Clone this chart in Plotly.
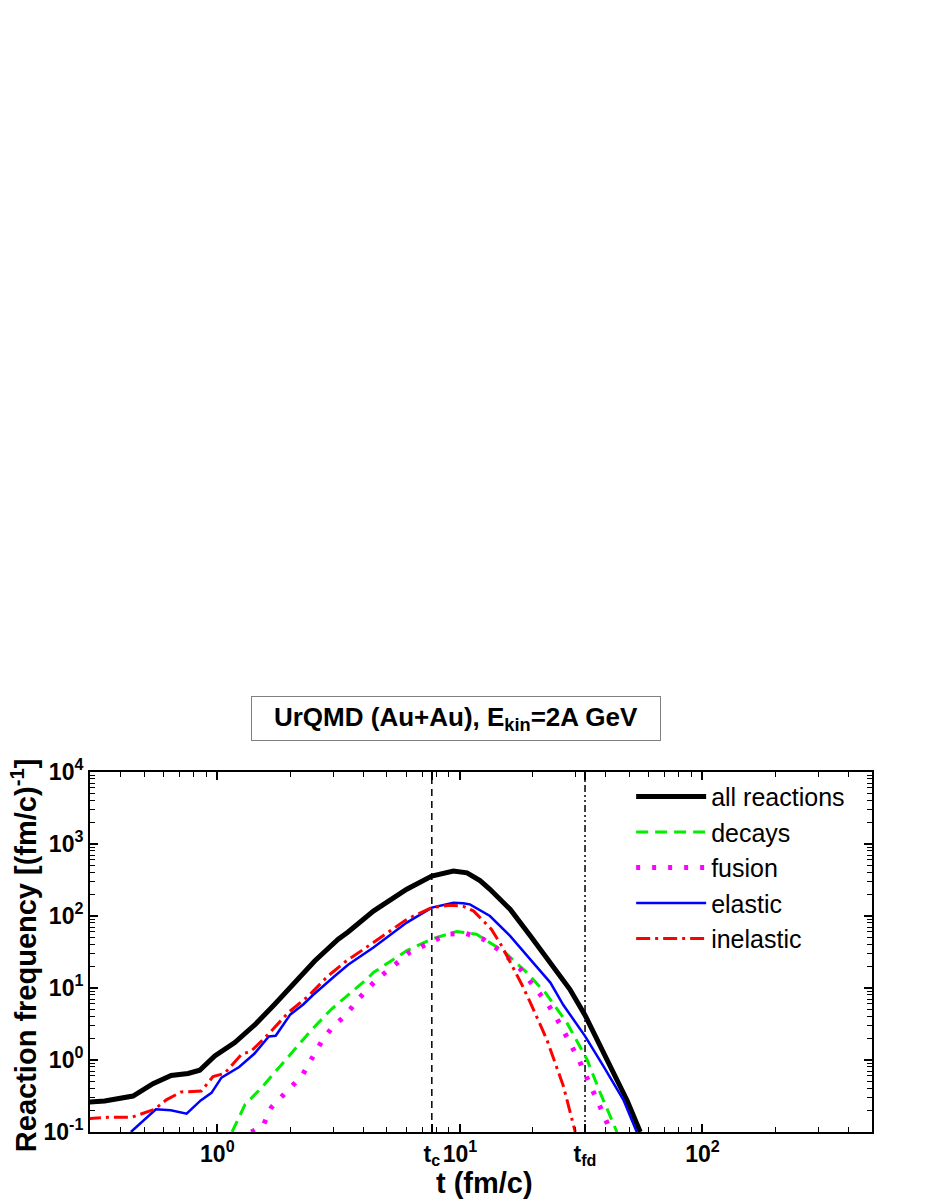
import plotly.graph_objects as go

# time markers (fm/c)
T_C = 7.66
T_FD = 32.8

# all reactions
all_t = [0.29, 0.343, 0.449, 0.543, 0.645, 0.757, 0.846, 0.976, 1.18, 1.43, 1.72, 2.02, 2.52, 3.15, 3.46,
         4.4, 6.04, 7.66, 9.4, 10.7, 12.1, 13.3, 16.1, 19.5, 23.4, 28.4, 32.8, 38, 43, 49, 55.4]
all_v = [0.26, 0.27, 0.316, 0.47, 0.61, 0.65, 0.72, 1.14, 1.75, 3.1, 5.9, 10.7, 23.7, 47.5, 60,
         117, 235, 359, 422, 398, 310, 235, 124, 53, 22.5, 9.6, 4.2, 1.5, 0.67, 0.27, 0.1]

# decays
dec_t = [1.15, 1.3, 1.52, 1.84, 2.12, 2.44, 2.95, 3.4, 4.13, 4.4, 6.04, 7.66, 9.7, 11.7, 15.1, 18.6,
         22.5, 27.6, 33.4, 37.9, 44.4]
dec_v = [0.1, 0.24, 0.41, 0.85, 1.5, 2.6, 5.06, 7.6, 13.2, 16.4, 33, 48, 61, 55.7, 32.6, 17.2,
         8.6, 3.3, 1.02, 0.35, 0.1]

# fusion
fus_t = [1.38, 1.54, 1.67, 1.9, 2.24, 2.44, 2.7, 2.95, 3.4, 3.87, 4.54, 5.32, 6.18, 7.54, 8.83, 10.5,
         12.5, 14.9, 17.7, 20.4, 23.2, 25.9, 28.5, 31.1, 33.6, 36.5, 39.1, 41.9]
fus_v = [0.1, 0.12, 0.22, 0.35, 0.61, 1.02, 1.84, 2.73, 4.3, 7.4, 13.2, 20.2, 31, 42.8, 55.7, 57.5,
         47.5, 31.6, 18.6, 10.1, 5.75, 3.13, 1.75, 0.97, 0.54, 0.3, 0.176, 0.1]

# elastic
ela_t = [0.44, 0.558, 0.643, 0.747, 0.854, 0.946, 1.04, 1.23, 1.42, 1.63, 1.74, 2.0, 2.26, 2.48, 3.05,
         3.46, 4.4, 6.04, 7.66, 9.4, 10.3, 11.0, 13.3, 16.1, 19.5, 23.6, 26.7, 32.8, 39, 47.2, 53.6]
ela_v = [0.1, 0.207, 0.2, 0.18, 0.275, 0.35, 0.57, 0.8, 1.22, 2.12, 2.17, 4.3, 5.9, 8.0, 14.7,
         21, 36.4, 81, 131, 153, 150, 145, 100, 53, 25, 11.9, 5.8, 2.15, 0.83, 0.28, 0.1]

# inelastic
ine_t = [0.29, 0.354, 0.443, 0.552, 0.616, 0.71, 0.859, 0.96, 1.07, 1.26, 1.38, 1.62, 1.96, 2.37, 2.86,
         3.4, 4.4, 6.04, 7.66, 9.1, 10.3, 11.4, 12.5, 13.5, 14.9, 16.6, 18.0, 19.5, 22.8, 26.7, 29.9]
ine_v = [0.153, 0.16, 0.16, 0.207, 0.28, 0.36, 0.37, 0.59, 0.65, 1.2, 1.33, 2.27, 4.55, 7.7, 14.7,
         23.7, 42.8, 90, 131, 141, 137, 117, 85, 65, 38, 19.2, 11.2, 6.3, 1.94, 0.435, 0.1]

X_TICKS = [1, T_C, 10, T_FD, 100]
X_TICKTEXT = ['10<sup>0</sup>', 't<sub>c</sub>', '10<sup>1</sup>', 't<sub>fd</sub>', '10<sup>2</sup>']
Y_TICKS = [0.1, 1, 10, 100, 1000, 10000]
Y_TICKTEXT = ['10<sup>-1</sup>', '10<sup>0</sup>', '10<sup>1</sup>', '10<sup>2</sup>',
              '10<sup>3</sup>', '10<sup>4</sup>']

FONT = 'Liberation Sans, Arial, sans-serif'

fig = go.Figure()

# vertical markers for t_c and t_fd
fig.add_trace(go.Scatter(x=[T_C, T_C], y=[0.1, 1e4], mode='lines', showlegend=False, hoverinfo='skip',
                         line=dict(color='black', width=1.5, dash='7px,5px')))
fig.add_trace(go.Scatter(x=[T_FD, T_FD], y=[0.1, 1e4], mode='lines', showlegend=False, hoverinfo='skip',
                         line=dict(color='black', width=1.5, dash='7px,3px,2px,3px,2px,3px')))

fig.add_trace(go.Scatter(x=all_t, y=all_v, mode='lines', name='all reactions',
                         line=dict(color='black', width=5)))
fig.add_trace(go.Scatter(x=dec_t, y=dec_v, mode='lines', name='decays',
                         line=dict(color='#00ee00', width=3, dash='12px,7px')))
fig.add_trace(go.Scatter(x=fus_t, y=fus_v, mode='lines', name='fusion',
                         line=dict(color='#ff00ff', width=5, dash='4px,12px')))
fig.add_trace(go.Scatter(x=ela_t, y=ela_v, mode='lines', name='elastic',
                         line=dict(color='#0000ff', width=2.5)))
fig.add_trace(go.Scatter(x=ine_t, y=ine_v, mode='lines', name='inelastic',
                         line=dict(color='#ff0000', width=3, dash='14px,5px,3px,5px')))

minor_x = [m * 10 ** k for k in range(-1, 3) for m in range(2, 10)]
minor_y = [m * 10 ** k for k in range(-1, 4) for m in range(2, 10)]

# page body adds an 8px offset, margins compensate so the plot sits where the reference has it
fig.update_layout(
    width=918,
    height=1191,
    margin=dict(l=82, r=54, t=764, b=67),
    paper_bgcolor='white',
    plot_bgcolor='white',
    font=dict(family=FONT, color='black'),
    showlegend=True,
    legend=dict(x=0.692, y=0.995, xanchor='left', yanchor='top', bgcolor='rgba(0,0,0,0)',
                font=dict(size=25, family=FONT), tracegroupgap=0, itemwidth=70),
    xaxis=dict(
        type='log',
        range=[-0.525, 2.699],
        tickvals=X_TICKS,
        ticktext=X_TICKTEXT,
        ticks='inside', ticklen=8, tickwidth=1.5, tickcolor='black',
        minor=dict(tickmode='array', tickvals=minor_x, ticks='inside', ticklen=5,
                   tickwidth=1, tickcolor='black'),
        showline=True, linecolor='black', linewidth=2, mirror='ticks',
        showgrid=False, zeroline=False, automargin=False,
        tickfont=dict(size=23, family=FONT, weight='bold'),
    ),
    yaxis=dict(
        type='log',
        range=[-1, 4],
        tickvals=Y_TICKS,
        ticktext=Y_TICKTEXT,
        ticks='inside', ticklen=8, tickwidth=1.5, tickcolor='black',
        minor=dict(tickmode='array', tickvals=minor_y, ticks='inside', ticklen=5,
                   tickwidth=1, tickcolor='black'),
        showline=True, linecolor='black', linewidth=2, mirror='ticks',
        showgrid=False, zeroline=False, automargin=False,
        tickfont=dict(size=23, family=FONT, weight='bold'),
    ),
)

# title box and axis titles
fig.add_annotation(text='<b>UrQMD (Au+Au), E<sub>kin</sub>=2A GeV</b>', xref='paper', yref='paper',
                   x=0.468, y=1.15, xanchor='center', yanchor='middle', showarrow=False,
                   font=dict(size=26, family=FONT), bordercolor='#808080', borderwidth=1,
                   width=406, height=41, bgcolor='white')
fig.add_annotation(text='<b>Reaction frequency [(fm/c)<sup>-1</sup>]</b>', xref='paper', yref='paper',
                   x=-0.085, y=0.49, xanchor='center', yanchor='middle', textangle=-90,
                   showarrow=False, font=dict(size=29, family=FONT))
fig.add_annotation(text='<b>t (fm/c)</b>', xref='paper', yref='paper',
                   x=0.505, y=-0.142, xanchor='center', yanchor='middle', showarrow=False,
                   font=dict(size=29, family=FONT))

fig.write_html("out.html")
